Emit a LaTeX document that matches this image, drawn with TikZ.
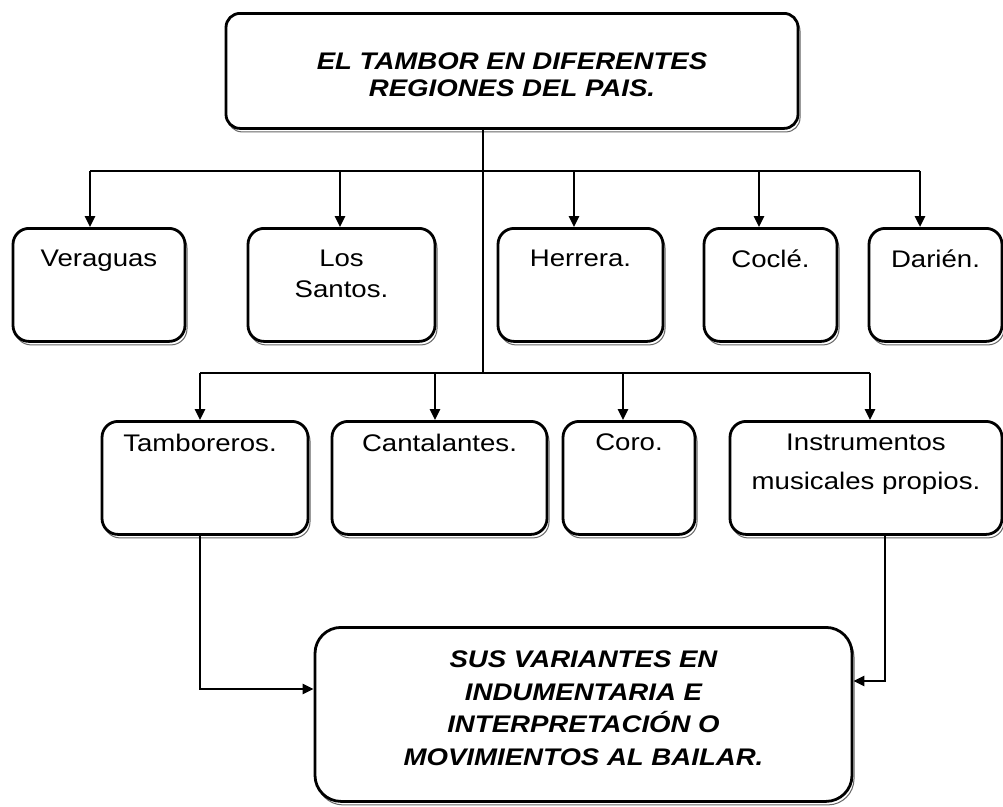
\documentclass[tikz,border=0pt]{standalone}
\usepackage{fontspec}
\setmainfont{Liberation Sans}[FakeStretch=1.15]
\usetikzlibrary{positioning, arrows.meta, shadows}

\tikzset{
  caja/.style={draw, line width=2.8pt, rounded corners=16pt, fill=white, anchor=north, minimum height=113pt,
    copy shadow={shadow xshift=2pt, shadow yshift=-3.5pt, draw=black!60, line width=1pt}},
  texto/.style={inner sep=0pt, align=center, font=\fontsize{24}{31}\selectfont},
  titulo/.style={inner sep=0pt, align=center, font=\fontsize{24}{27}\selectfont\bfseries\itshape},
  linea/.style={line width=2.5pt},
  flecha/.style={line width=2.5pt, -{Triangle[length=11pt, width=10pt]}}
}

\begin{document}
\begin{tikzpicture}[x=1pt, y=-1pt]
        \useasboundingbox (0,0) rectangle (1003,806);

        % Draw the title box
        \node[caja, rounded corners=14pt, minimum width=572pt, minimum height=115pt] (tambor) at (512,12) {};
        \node[titulo, below=41pt of tambor.north] (ttambor) {EL TAMBOR EN DIFERENTES\\REGIONES DEL PAIS.};

        % Draw the regions
        \node[caja, minimum width=172pt] (ver) at (99,227) {};
        \node[texto, below=23pt of ver.north] (tver) {Veraguas};
        \node[caja, minimum width=187pt] (san) at (341.5,227) {};
        \node[texto, below=23pt of san.north] (tsan) {Los\\Santos.};
        \node[caja, minimum width=165pt] (her) at (580.5,227) {};
        \node[texto, below=23pt of her.north] (ther) {Herrera.};
        \node[caja, minimum width=133pt] (coc) at (770.5,227) {};
        \node[texto, below=23pt of coc.north] (tcoc) {Coclé.};
        \node[caja, minimum width=133pt] (dar) at (935.5,227) {};
        \node[texto, below=23pt of dar.north] (tdar) {Darién.};

        % Draw the performers and instruments
        \node[caja, minimum width=206pt] (tam) at (205,420) {};
        \node[texto, below=14pt of tam.north, xshift=-5pt] (ttam) {Tamboreros.};
        \node[caja, minimum width=215pt] (can) at (439.5,420) {};
        \node[texto, below=14pt of can.north] (tcan) {Cantalantes.};
        \node[caja, minimum width=132pt] (cor) at (629,420) {};
        \node[texto, below=14pt of cor.north] (tcor) {Coro.};
        \node[caja, minimum width=272pt] (ins) at (866,420) {};
        \node[texto, below=14pt of ins.north, font=\fontsize{24}{39}\selectfont] (tins) {Instrumentos\\musicales propios.};

        % Draw the bottom box
        \node[caja, rounded corners=26pt, minimum width=537pt, minimum height=174pt] (sus) at (583.5,626) {};
        \node[titulo, below=25pt of sus.north, font=\fontsize{24}{32.5}\selectfont\bfseries\itshape] (tsus)
            {SUS VARIANTES EN\\INDUMENTARIA E\\INTERPRETACIÓN O\\MOVIMIENTOS AL BAILAR.};

        % Points on the two bars
        \coordinate (b1) at (483,171);
        \coordinate (b2) at (483,373);
        \coordinate (a1) at (90,171);
        \coordinate (a2) at (340,171);
        \coordinate (a3) at (574,171);
        \coordinate (a4) at (759,171);
        \coordinate (a5) at (920,171);
        \coordinate (c1) at (200,373);
        \coordinate (c2) at (435,373);
        \coordinate (c3) at (623,373);
        \coordinate (c4) at (870,373);
        \coordinate (d1) at (200,689);
        \coordinate (d2) at (885,681);

        % Draw the trunk and the bars
        \draw[linea] (tambor.south -| b1) -- (b2);
        \draw[linea] (a1) -- (a5);
        \draw[linea] (c1) -- (c4);

        % Draw arrows from the bars to the boxes
        \foreach \a/\n in {a1/ver, a2/san, a3/her, a4/coc, a5/dar, c1/tam, c2/can, c3/cor, c4/ins}
            \draw[flecha] (\a) -- (\a |- \n.north);

        % Draw arrows into the bottom box
        \draw[flecha] (d1 |- tam.south) -- (d1) -- (d1 -| sus.west);
        \draw[flecha] (d2 |- ins.south) -- (d2) -- (d2 -| sus.east);
\end{tikzpicture}
\end{document}
